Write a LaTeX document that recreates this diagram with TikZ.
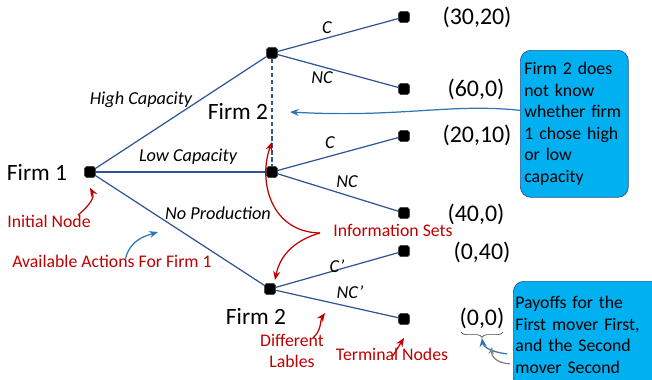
\documentclass[tikz,border=0pt]{standalone}
\usepackage{fontspec}
\setmainfont{Carlito}
\usepackage{xcolor}
\usetikzlibrary{arrows.meta, decorations.pathreplacing}

\definecolor{edgeblue}{RGB}{47,85,151}
\definecolor{notered}{RGB}{192,0,0}
\definecolor{boxcyan}{RGB}{0,176,240}
\definecolor{pointblue}{RGB}{46,117,182}

\begin{document}
\begin{tikzpicture}[x=0.02cm, y=-0.02cm]
\tikzstyle{decnode} = [rectangle, fill=black, draw=black!70, minimum size=0.22cm, inner sep=0pt, rounded corners=1pt]
\tikzstyle{branch} = [draw=edgeblue, line width=0.7pt]
\tikzstyle{actlbl} = [font=\fontsize{10.4}{12}\selectfont\itshape, inner sep=1pt]
\tikzstyle{player} = [font=\fontsize{13.3}{16}\selectfont, inner sep=1pt]
\tikzstyle{payoff} = [font=\fontsize{13.6}{16}\selectfont, inner sep=1pt]
\tikzstyle{note} = [text=notered, font=\fontsize{10.1}{12.3}\selectfont, align=center, inner sep=1pt]
\tikzstyle{infobox} = [rectangle, rounded corners=6pt, fill=boxcyan, draw=edgeblue, align=left, font=\fontsize{10.1}{12.3}\selectfont, inner ysep=2pt]
\tikzstyle{pointer} = [-{Stealth[length=5pt, width=4pt]}, notered, line width=0.7pt]
\tikzstyle{bluepointer} = [-{Stealth[length=5pt, width=4pt]}, pointblue, line width=0.7pt]

\useasboundingbox (0,0) rectangle (652,379);

% decision nodes
\node (f1) [decnode] at (90,172) {};
\node (hi) [decnode] at (272,53) {};
\node (lo) [decnode] at (272,172) {};
\node (np) [decnode] at (270,289) {};

% terminal nodes
\node (t1) [decnode] at (404,17) {};
\node (t2) [decnode] at (404,89) {};
\node (t3) [decnode] at (404,136) {};
\node (t4) [decnode] at (404,213) {};
\node (t5) [decnode] at (404,251) {};
\node (t6) [decnode] at (404,319) {};

% branches
\draw[branch] (f1) -- (hi);
\draw[branch] (f1) -- (lo);
\draw[branch] (f1) -- (np);
\draw[branch] (hi) -- (t1);
\draw[branch] (hi) -- (t2);
\draw[branch] (lo) -- (t3);
\draw[branch] (lo) -- (t4);
\draw[branch] (np) -- (t5);
\draw[branch] (np) -- (t6);
\draw[branch, dash pattern=on 2.5pt off 1.5pt] (hi) -- (lo);

% players
\node (pf1) [player] at (37,172) {Firm 1};
\node (pf2a) [player] at (238,111) {Firm 2};
\node (pf2b) [player] at (256,316) {Firm 2};

% actions
\node (hcap) [actlbl] at (141,100) {High Capacity};
\node (lcap) [actlbl] at (188,157) {Low Capacity};
\node (nprod) [actlbl] at (218,213) {No Production};
\node (ca) [actlbl] at (327,28) {C};
\node (nca) [actlbl] at (322,78) {NC};
\node (cb) [actlbl] at (330,143) {C};
\node (ncb) [actlbl] at (347,182) {NC};
\node (cc) [actlbl] at (337,266) {C’};
\node (ncc) [actlbl] at (350,292) {NC’};

% payoffs
\node (p1) [payoff] at (477,17) {(30,20)};
\node (p2) [payoff] at (476,89) {(60,0)};
\node (p3) [payoff] at (477,135) {(20,10)};
\node (p4) [payoff] at (476,214) {(40,0)};
\node (p5) [payoff] at (482,252) {(0,40)};
\node (p6) [payoff] at (482,318) {(0,0)};

% explanation boxes
\node (box1) [infobox, anchor=north west, text width=2cm, inner xsep=0.08cm, minimum height=2.94cm] at (520,50)
  {Firm 2 does\\not know\\whether firm\\1 chose high\\or low\\capacity};
\node (box2) [infobox, anchor=north west, text width=2.92cm, inner xsep=0.04cm, minimum height=2.14cm] at (513,281)
  {Payoffs for the\\First mover First,\\and the Second\\mover Second};

% red notes
\node (initlbl) [note] at (49,221) {Initial Node};
\node (actlbl1) [note] at (112,261) {Available Actions For Firm 1};
\node (infolbl) [note] at (393,230) {Information Sets};
\node (difflbl) [note] at (292,351) {Different\\Lables};
\node (termlbl) [note] at (392,354) {Terminal Nodes};

\coordinate (wavetip) at (290,112);
\coordinate (actstip) at (158,232);
\coordinate (infostart) at (320,233);
\coordinate (infotipa) at (272,142);
\coordinate (infotipb) at (275,280);
\coordinate (difftip) at (325,313);
\coordinate (bracetip) at (482,338);
\coordinate (bracetipb) at (492,347);

% pointers
\draw[bluepointer] ([yshift=0.27cm]box1.west) .. controls (450,103) and (400,118) .. (wavetip);
\draw[pointer] ([xshift=0.58cm, yshift=-0.05cm]initlbl.north) .. controls (90,205) and (95,197) .. ([yshift=-0.2cm]f1.south);
\draw[bluepointer] ([xshift=0.27cm, yshift=-0.12cm]actlbl1.north) .. controls (130,240) and (145,236) .. (actstip);
\draw[pointer] (infostart) .. controls (270,232) and (258,180) .. (infotipa);
\draw[pointer] (infostart) .. controls (295,240) and (280,255) .. (infotipb);
\draw[pointer] ([xshift=0.42cm, yshift=-0.12cm]difflbl.north) .. controls (322,330) and (320,320) .. (difftip);
\draw[pointer] ([xshift=0.02cm, yshift=-0.2cm]termlbl.north) -- ([yshift=-0.26cm]t6.south);

% brace under the last payoff
\draw[black!70, decorate, decoration={brace, mirror, amplitude=3pt}] (461,332) -- (503,332);
\draw[bluepointer] ([xshift=-0.12cm, yshift=-0.38cm]box2.west) .. controls (490,352) and (483,346) .. (bracetip);
\draw[-{Stealth[length=4pt, width=3pt]}, gray, line width=0.7pt] ([xshift=-0.06cm, yshift=-0.58cm]box2.west) .. controls (495,363) and (491,355) .. (bracetipb);

\end{tikzpicture}
\end{document}
